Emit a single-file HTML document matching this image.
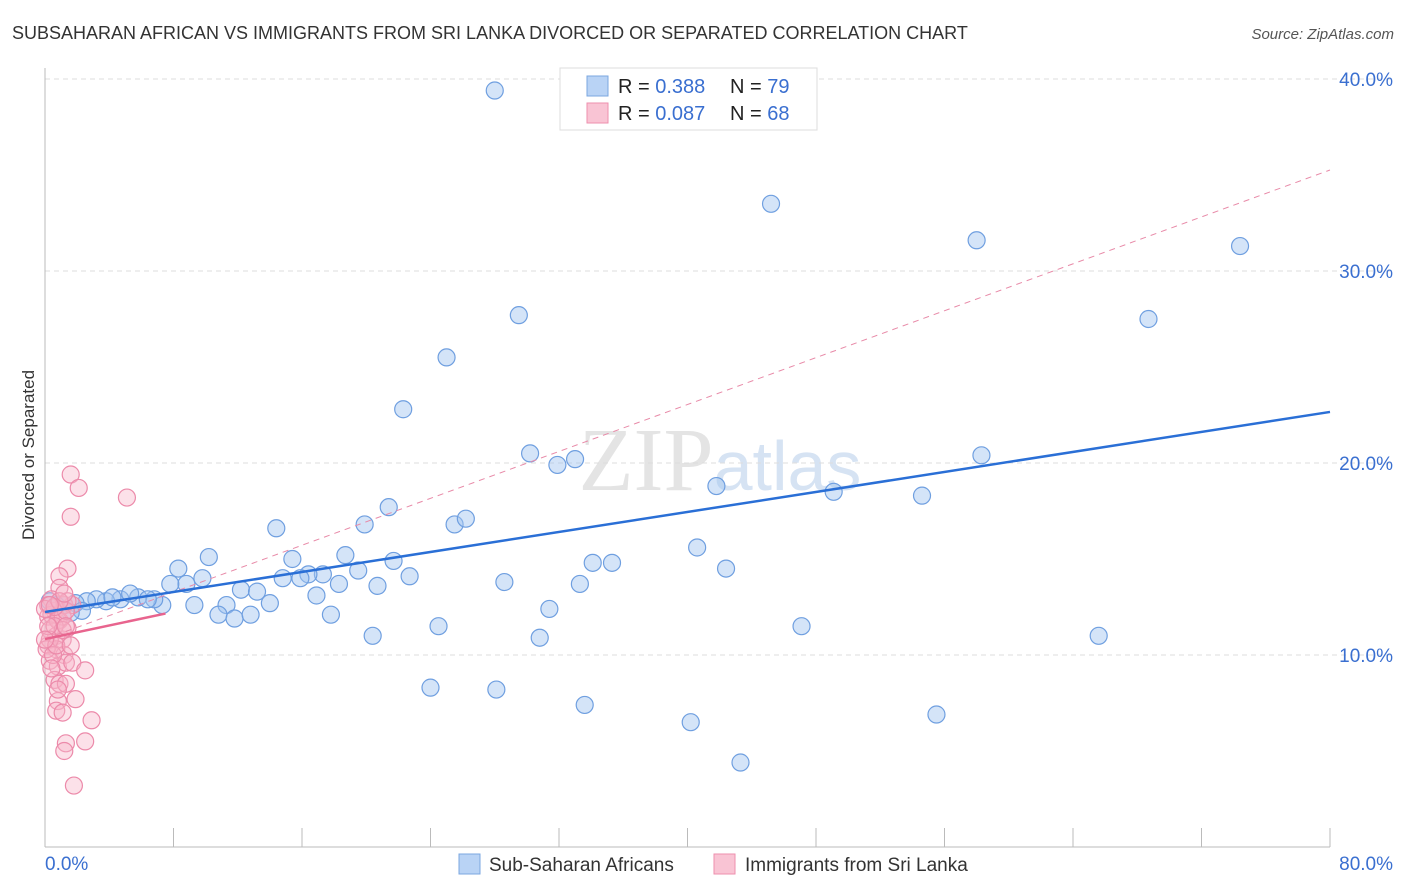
<!DOCTYPE html>
<html><head><meta charset="utf-8"><style>
body{margin:0;background:#fff;font-family:"Liberation Sans",sans-serif}
#c{position:absolute;left:0;top:0}
</style></head><body>
<svg id="c" width="1406" height="892">
<text x="12" y="39" font-size="18" fill="#333">SUBSAHARAN AFRICAN VS IMMIGRANTS FROM SRI LANKA DIVORCED OR SEPARATED CORRELATION CHART</text>
<text x="1394" y="39" font-size="15" fill="#555" text-anchor="end" font-style="italic">Source: ZipAtlas.com</text>
<text x="34" y="455" font-size="17" fill="#333" text-anchor="middle" transform="rotate(-90 34 455)">Divorced or Separated</text>
<text x="720" y="490" font-size="90" fill="#e4e4e4" text-anchor="middle" font-family="Liberation Serif,serif">ZIP<tspan fill="#d6e3f3" font-family="Liberation Sans,sans-serif" font-size="70">atlas</tspan></text>
<g id="grid"></g><g id="pts"></g><g id="lines"></g>
<g>
<rect x="560" y="68" width="257" height="62" fill="#fff" stroke="#ddd"/>
<rect x="587" y="76" width="21" height="20" fill="#b9d3f5" stroke="#7ba7e0"/>
<rect x="587" y="103" width="21" height="20" fill="#f9c4d4" stroke="#ee8fae"/>
<text x="618" y="93" font-size="20" fill="#222">R = <tspan fill="#3a6fd0">0.388</tspan><tspan x="730">N = </tspan><tspan fill="#3a6fd0">79</tspan></text>
<text x="618" y="120" font-size="20" fill="#222">R = <tspan fill="#3a6fd0">0.087</tspan><tspan x="730">N = </tspan><tspan fill="#3a6fd0">68</tspan></text>
</g>
<g>
<rect x="459" y="854" width="21" height="20" fill="#b9d3f5" stroke="#7ba7e0"/>
<text x="489" y="871" font-size="19" fill="#333">Sub-Saharan Africans</text>
<rect x="714" y="854" width="21" height="20" fill="#f9c4d4" stroke="#ee8fae"/>
<text x="745" y="871" font-size="19" fill="#333">Immigrants from Sri Lanka</text>
</g>
</svg>
<script>
const yTicks=[10,20,30,40];
const yTickLabels=["10.0%","20.0%","30.0%","40.0%"];
const xTickLabels=["0.0%","80.0%"];
const blueX=[28,45.2,58,74.4,29.5,68.7,25,22.3,30.2,31.9,33,58.3,41.8,49.1,54.6,21.4,14.4,25.5,26.2,19.9,10.2,15.4,18.7,40.6,34.1,35.3,21.7,8.3,42.4,17.3,16.4,19.5,22.7,28.6,33.3,9.8,8.8,7.8,12.2,14.8,15.9,20.7,18.3,13.2,16.9,14,9.3,11.3,7.3,6.8,5.8,4.7,3.8,3.2,2.6,1.9,1.2,0.7,0.3,2.3,10.8,11.8,12.8,17.8,31.4,20.4,24.5,30.8,47.1,65.6,24,28.1,33.6,40.2,55.5,43.3,6.4,5.3,4.2,1.6];
const blueY=[39.4,33.5,31.6,31.3,27.7,27.5,25.5,22.8,20.5,19.9,20.2,20.4,18.8,18.5,18.3,17.7,16.6,16.8,17.1,16.8,15.1,15,15.2,15.6,14.8,14.8,14.9,14.5,14.5,14.2,14.2,14.4,14.1,13.8,13.7,14,13.7,13.7,13.4,14,14,13.6,13.7,13.3,13.1,12.7,12.6,12.6,12.6,12.9,13,12.9,12.8,12.9,12.8,12.7,12.6,12.6,12.8,12.3,12.1,11.9,12.1,12.1,12.4,11,11.5,10.9,11.5,11,8.3,8.2,7.4,6.5,6.9,4.4,12.9,13.2,13,12.2];
const pinkX=[1.6,2.1,5.1,1.6,1.4,0.9,0.9,0.4,0.6,0.2,0.9,1.2,1.7,0.3,0.7,1.1,1.4,0.2,0.7,1.2,0.3,0.8,1.3,1.7,2.5,0.6,0.9,1.3,0.8,1.9,0.7,1.1,2.9,1.3,2.5,1.2,1.8,0.2,0.4,0.8,1.1,1.3,0.6,0.3,0.1,0.5,0.7,1.1,0,0.2,0.6,1.4,0.9,1.2,0.3,0,0.4,0.8,1.6,1.3];
const pinkY=[19.4,18.7,18.2,17.2,14.5,14.1,13.5,12.9,12.3,12,11.8,12.6,12.6,11.3,11,10.8,11.4,10.5,10.3,10,9.7,9.4,9.6,9.6,9.2,8.7,8.5,8.5,7.6,7.7,7.1,7,6.6,5.4,5.5,5,3.2,12.6,12.1,11.8,12,12.3,11.5,10.8,10.3,10,10.5,11.3,12.4,11.5,12.5,12.8,12.8,13.2,12.6,10.8,9.3,8.2,10.5,11.5];
const blueTrend=[12.24,22.66];
const pinkTrend=[10.83,35.26];
const pinkSolidEnd=7.5;
const ns="http://www.w3.org/2000/svg";
const X=v=>45+v*(1285/80), Y=v=>847-v*19.2;
function mk(t,a,p){const e=document.createElementNS(ns,t);for(const k in a)e.setAttribute(k,a[k]);p.appendChild(e);return e;}
const g=document.getElementById('grid');
yTicks.forEach((t,i)=>{
 const l=mk('line',{x1:45,x2:1392,y1:Y(t),y2:Y(t),stroke:'#ddd','stroke-dasharray':'5,4'},g);
 
 
 const tx=mk('text',{x:1393,y:Y(t)+7,'font-size':19,fill:'#3a6fd0','text-anchor':'end'},g);
 tx.textContent=yTickLabels[i];
 
 
});
mk('line',{x1:45,x2:45,y1:68,y2:847,stroke:'#bbb'},g);
mk('line',{x1:45,x2:1330,y1:847,y2:847,stroke:'#bbb'},g);
for(let i=1;i<=10;i++){const xx=45+i*128.5;mk('line',{x1:xx,x2:xx,y1:828,y2:847,stroke:'#bbb'},g);}
[[0,'start',45],[80,'end',1393]].forEach((d,i)=>{
 const tx=mk('text',{x:d[2],y:870,'font-size':19,fill:'#3a6fd0','text-anchor':d[1]},g);
 tx.textContent=xTickLabels[i];
 
 
});
const p=document.getElementById('pts');
blueX.forEach((v,i)=>{const c=mk('circle',{cx:X(v),cy:Y(blueY[i]),r:8.5,fill:'rgba(160,196,240,0.45)',stroke:'#6f9fe0','stroke-width':1.2},p);
 
 });
pinkX.forEach((v,i)=>{const c=mk('circle',{cx:X(v),cy:Y(pinkY[i]),r:8.5,fill:'rgba(248,180,200,0.4)',stroke:'#ec8aaa','stroke-width':1.2},p);
 
 });
const L=document.getElementById('lines');
const ld=mk('line',{x1:X(0),y1:Y(pinkTrend[0]),x2:X(80),y2:Y(pinkTrend[1]),stroke:'#e88aa8','stroke-width':1,'stroke-dasharray':'6,5'},L);


const ls=mk('line',{x1:X(0),y1:Y(pinkTrend[0]),x2:X(pinkSolidEnd),y2:Y(pinkTrend[0]+(pinkTrend[1]-pinkTrend[0])*pinkSolidEnd/80*0.58),stroke:'#e8648e','stroke-width':2.5},L);


const lb=mk('line',{x1:X(0),y1:Y(blueTrend[0]),x2:X(80),y2:Y(blueTrend[1]),stroke:'#2a6fd6','stroke-width':2.5},L);


</script>
</body></html>
